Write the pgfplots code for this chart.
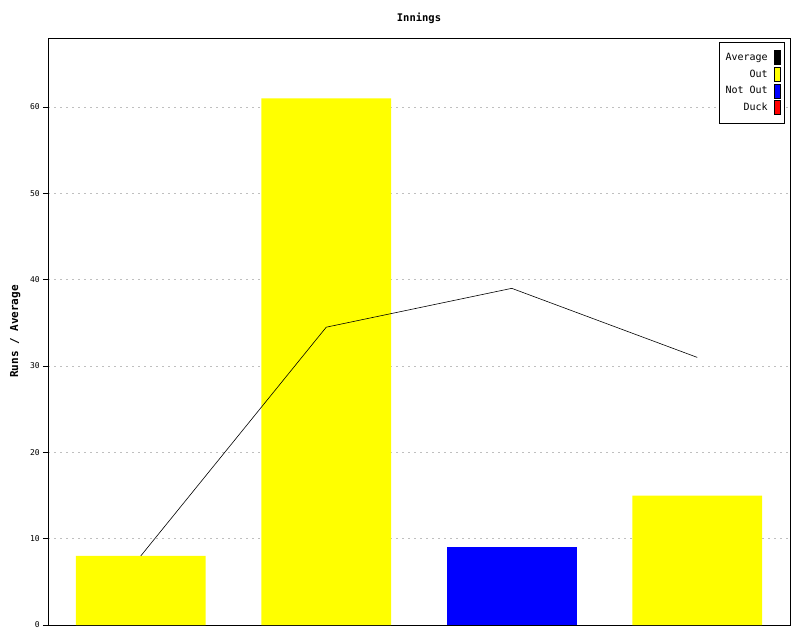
\documentclass[border=0pt]{standalone}
\usepackage{pgfplots}
\pgfplotsset{compat=1.18}
\usepackage{fontspec}
\setmainfont{DejaVu Sans Mono}
\definecolor{yel}{RGB}{255,255,0}
\definecolor{blu}{RGB}{0,0,255}
\definecolor{rd}{RGB}{255,0,0}
\pgfplotsset{lbox/.style={legend image code/.code={\path[draw=none,fill=none] (0pt,0pt) -- (10.5pt,0pt);\draw[fill=#1,draw=black,line width=0.8pt] (5pt,-7pt) rectangle (10.5pt,7pt);}}}
\begin{document}
\begin{tikzpicture}[x=1pt,y=1pt]
\path[use as bounding box] (0,0) rectangle (800,640);
\begin{axis}[
  at={(48pt,15pt)}, anchor=south west,
  width=742pt, height=587pt, scale only axis,
  xmin=-0.5, xmax=3.5, ymin=0, ymax=68,
  xtick=\empty,
  ytick={0,10,...,60}, ytick pos=left,
  tick align=outside, major tick length=5pt,
  tick style={black, line width=0.8pt},
  axis line style={line width=0.9pt},
  ymajorgrids, grid style={gray!50, dash pattern=on 2pt off 4pt, line width=0.6pt},
  /pgf/number format/assume math mode=true,
  yticklabel style={font=\fontsize{8}{9}\selectfont, inner sep=1pt, xshift=-2pt},
  title={Innings},
  title style={font=\bfseries\fontsize{10.5}{12}\selectfont, at={(0.5,1)}, anchor=base, yshift=11pt},
  ylabel={Runs / Average},
  every axis y label/.style={at={(rel axis cs:0,0.5)}, rotate=90, anchor=base, yshift=30pt, font=\bfseries\fontsize{11}{12}\selectfont},
  legend style={at={(rel axis cs:1,1)}, anchor=north east, xshift=-5pt, yshift=-4pt,
    draw=black, line width=0.8pt, font=\fontsize{10}{11}\selectfont, row sep=1.8pt,
    inner xsep=4pt, inner ysep=8pt},
  legend plot pos=right, legend cell align=right,
]
\addlegendimage{lbox=black}
\addlegendentry{Average}
\addlegendimage{lbox=yel}
\addlegendentry{Out}
\addlegendimage{lbox=blu}
\addlegendentry{Not Out}
\addlegendimage{lbox=rd}
\addlegendentry{Duck}
\addplot[ybar, bar width=0.7, bar shift=0pt, fill=yel, draw=none, forget plot] coordinates {(0,8) (1,61) (3,15)};
\addplot[ybar, bar width=0.7, bar shift=0pt, fill=blu, draw=none, forget plot] coordinates {(2,9)};
\addplot[black, line width=0.6pt, mark=none, forget plot] coordinates {(0,8) (1,34.5) (2,39) (3,31)};
\end{axis}
\end{tikzpicture}
\end{document}
